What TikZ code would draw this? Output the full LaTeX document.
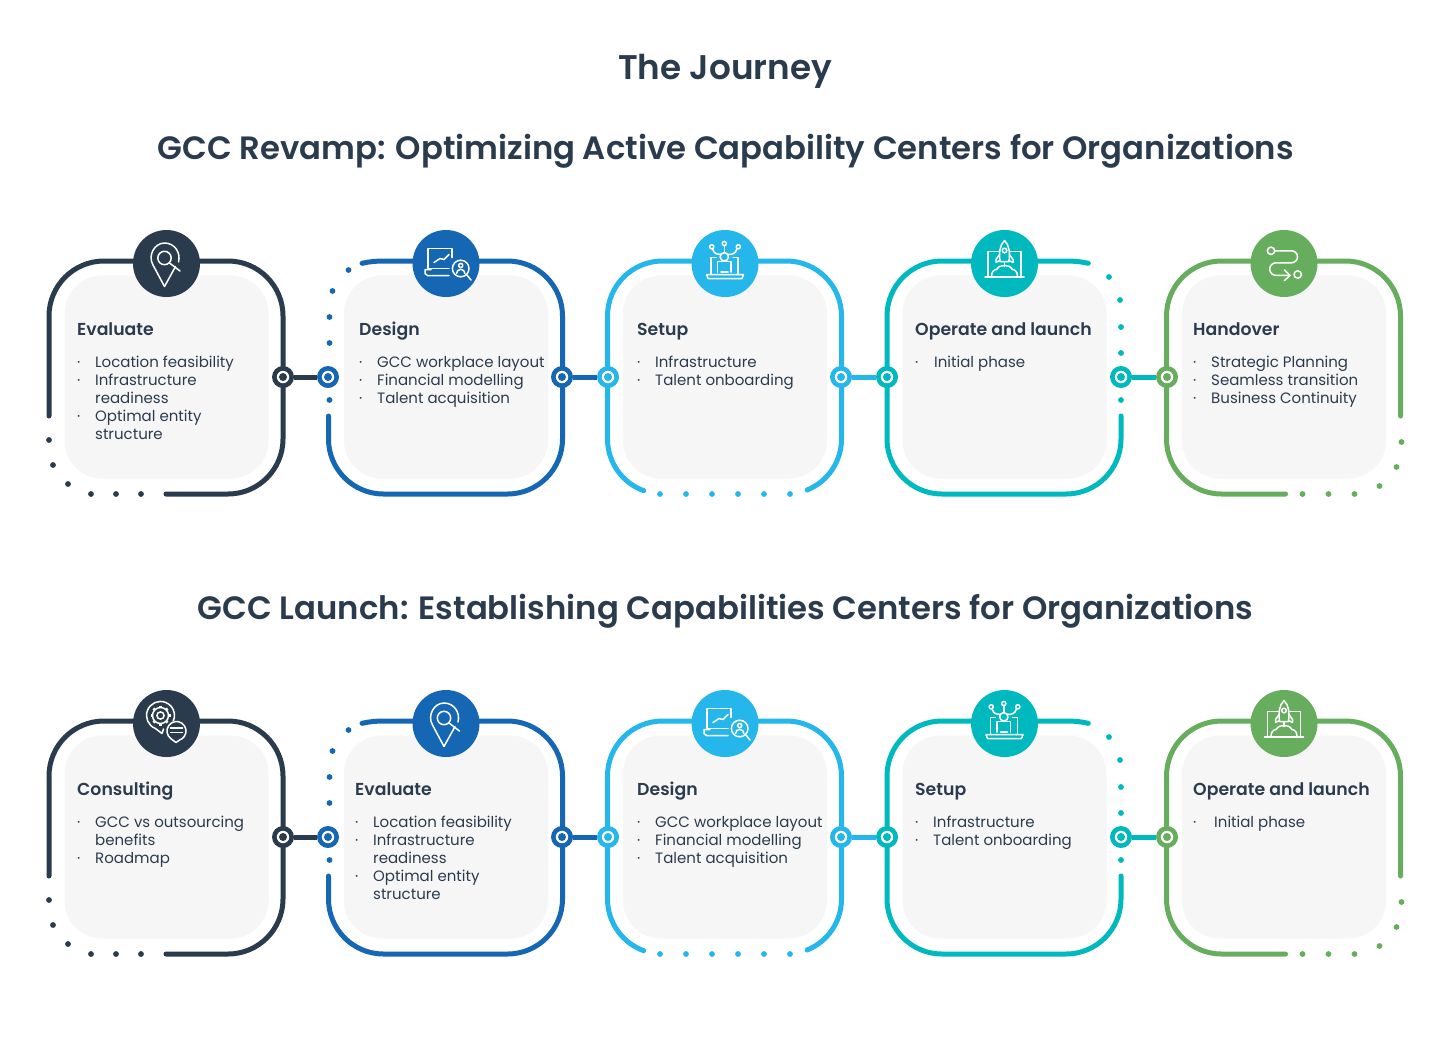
\documentclass[tikz,border=0pt]{standalone}
\usepackage{fontspec}
\setmainfont{Poppins}[BoldFont={Poppins SemiBold}]
\definecolor{cnavy}{HTML}{2B3B4E}
\definecolor{cblue}{HTML}{1567B3}
\definecolor{ccyan}{HTML}{25B6EC}
\definecolor{cteal}{HTML}{00B9BF}
\definecolor{cgreen}{HTML}{66AE5E}
\definecolor{ccard}{HTML}{F6F6F6}
\tikzset{
 frameline/.style={line width=5pt,line cap=round},
 cardbox/.style={draw=none,fill=ccard,rounded corners=38pt,minimum width=204pt,minimum height=203pt,inner sep=0pt},
 iconbg/.style={circle,minimum size=67pt,inner sep=0pt},
 ringnode/.style={circle,minimum size=22pt,inner sep=0pt},
 linkline/.style={line width=5pt},
 iconline/.style={draw=white,line width=1.5pt,line cap=round,line join=round},
 title/.style={font=\fontsize{34.2}{36}\selectfont\bfseries,text=cnavy,inner sep=0pt},
 subtitle/.style={font=\fontsize{32.3}{36}\selectfont\bfseries,text=cnavy,inner sep=0pt},
 heading/.style={font=\fontsize{17.3}{18}\selectfont\bfseries,text=cnavy,inner sep=0pt,anchor=base west},
 body/.style={font=\fontsize{15}{18}\selectfont,text=cnavy,inner sep=0pt,anchor=north west,align=left},
}
\newcommand{\bl}{\makebox[18pt][l]{·}}
\newcommand{\blw}[1]{\makebox[#1][l]{·}}
\newcommand{\ct}{\hspace*{18pt}}
% frames: local origin = left/top of the line
\newcommand{\FrameA}[1]{%
 \draw[frameline,#1] (0,-155) -- (0,-55) arc[start angle=180,end angle=90,radius=55] -- (179,0) arc[start angle=90,end angle=0,radius=55] -- (234,-178) arc[start angle=0,end angle=-90,radius=55] -- (117,-233);
 \foreach \a/\b in {0/-179,4/-204,19/-223,42/-233,67/-233,92/-233} \fill[#1] (\a,\b) circle (2.9);}
\newcommand{\FrameB}[1]{%
 \draw[frameline,#1] (33.5,-2.3) .. controls (41,-0.6) and (48,0) .. (55,0) -- (179,0) arc[start angle=90,end angle=0,radius=55] -- (234,-178) arc[start angle=0,end angle=-90,radius=55] -- (55,-233) arc[start angle=270,end angle=180,radius=55] -- (0,-155);
 \foreach \a/\b in {20/-9,4/-30,1/-56,1/-82,1/-139} \fill[#1] (\a,\b) circle (2.9);}
\newcommand{\FrameC}[1]{%
 \draw[frameline,#1] (36.19,-229.68) arc[start angle=250,end angle=180,radius=55] -- (0,-55) arc[start angle=180,end angle=90,radius=55] -- (179,0) arc[start angle=90,end angle=0,radius=55] -- (234,-178) arc[start angle=0,end angle=-68,radius=55];
 \foreach \a in {52.5,78.5,104.5,130.5,156.5,182.5} \fill[#1] (\a,-233) circle (2.9);}
\newcommand{\FrameD}[1]{%
 \draw[frameline,#1] (201.3,-2.3) .. controls (194,-0.6) and (187,0) .. (179,0) -- (55,0) arc[start angle=90,end angle=180,radius=55] -- (0,-178) arc[start angle=180,end angle=270,radius=55] -- (179,-233) arc[start angle=270,end angle=360,radius=55] -- (234,-155);
 \foreach \a/\b in {222/-16,233/-39,234/-66,234/-92,234/-139} \fill[#1] (\a,\b) circle (2.9);}
\newcommand{\FrameE}[1]{%
 \draw[frameline,#1] (234,-155) -- (234,-55) arc[start angle=0,end angle=90,radius=55] -- (55,0) arc[start angle=90,end angle=180,radius=55] -- (0,-178) arc[start angle=180,end angle=270,radius=55] -- (119,-233);
 \foreach \a/\b in {136/-233,162/-233,188/-233,213/-225,230/-206,235/-181} \fill[#1] (\a,\b) circle (2.9);}
% icons: origin = centre of the circle, y up
\newcommand{\IconPinB}[1]{%
 \draw[iconline] (-2,-23) -- (-13.5,-1.5) .. controls (-19,8) and (-12,20.5) .. (-2,20.5) .. controls (8,20.5) and (14.5,11) .. (12,1.5);
 \draw[iconline] (-2,-23) -- (9,-3);
 \draw[iconline] (-2,5.5) circle (6.7);
 \draw[iconline] (3,0.5) -- (13.5,-7.5);}
\newcommand{\IconLaptop}[1]{%
 \draw[iconline] (6,6) -- (6,15) -- (-18,15) -- (-18,-5) -- (3,-5);
 \draw[iconline] (-15,-6) -- (-21,-6) -- (-21,-10) -- (-18.5,-12) -- (3,-12);
 \draw[iconline] (-12,1) -- (-6,5) -- (-2,4) -- (3,9);
 \draw[iconline] (14.7,-5) circle (8.3);
 \draw[iconline] (20.5,-11) -- (25,-16.5);
 \draw[iconline] (14.7,-2) circle (2.1);
 \draw[iconline] (10.5,-10) arc[start angle=180,end angle=0,radius=4.2];}
\newcommand{\IconPeople}[1]{%
 \draw[iconline] (-13.3,16.7) circle (2.1) (-0.7,20) circle (2.1) (13.3,16.7) circle (2.1);
 \draw[iconline] (-0.7,18) -- (-0.7,11);
 \draw[iconline] (-12.5,14.7) .. controls (-11,9) and (-7,9) .. (-3.8,9);
 \draw[iconline] (12,14.7) .. controls (10.5,9) and (6,9) .. (2.4,9);
 \draw[iconline] (-0.7,6.7) circle (4.2);
 \draw[iconline] (-9,6) -- (-14,6) -- (-14,-11);
 \draw[iconline] (8,6) -- (13,6) -- (13,-11);
 \draw[iconline] (-7.5,-8.5) -- (-7.5,2) -- (6,2) -- (6,-8.5);
 \draw[iconline] (-18.5,-11) -- (18.5,-11) -- (17,-15) -- (-17,-15) -- cycle;
 \draw[iconline] (-4,-8.5) -- (3,-8.5);}
\newcommand{\IconRocket}[1]{%
 \draw[iconline] (0,23) .. controls (-5,18) and (-5.5,11) .. (-4.5,2) -- (4.5,2) .. controls (5.5,11) and (5,18) .. (0,23) -- cycle;
 \draw[iconline] (-5,9) -- (-8.5,4) -- (-8.5,1) -- (-4.5,3);
 \draw[iconline] (5,9) -- (8.5,4) -- (8.5,1) -- (4.5,3);
 \draw[iconline] (0,13) circle (2.3);
 \draw[iconline] (0,1) -- (0,-3);
 \draw[iconline] (-6,12) -- (-16.5,12) -- (-16.5,-12);
 \draw[iconline] (6,12) -- (16.5,12) -- (16.5,-12);
 \draw[iconline] (-19.5,-13.5) -- (19.5,-13.5);
 \draw[iconline] (-13,-12.5) .. controls (-13,-8) and (-10,-6) .. (-8,-6) .. controls (-6,-3) and (-3,-1.5) .. (0,-2) .. controls (3,-1.5) and (6,-3) .. (8,-6) .. controls (10,-6) and (13,-8) .. (13,-12.5);}
\newcommand{\IconRoute}[1]{%
 \draw[iconline] (-13,12.7) circle (3.7);
 \draw[iconline] (13.7,-11) circle (3.7);
 \draw[iconline] (-9.3,12.7) -- (7.5,12.7) arc[start angle=90,end angle=-90,radius=6] -- (-8,0.7) arc[start angle=90,end angle=270,radius=6.3] -- (6,-11.9);
 \draw[iconline] (0.5,-6.5) -- (6,-11.9) -- (0.5,-17);}
\newcommand{\IconGear}[1]{%
 \draw[iconline] (-11,-5) -- (-4.5,-10) -- (-3,-5.5);
 \draw[iconline] (-11,-5) arc[start angle=249,end angle=-30,radius=14];
 \draw[iconline] (-6,8) circle (3.6);
 \draw[iconline] (-6,8) circle (8);
 \foreach \t in {0,45,...,315} \draw[white,line width=2.6pt,line cap=butt] (-6,8) ++(\t:7.6) -- ++(\t:2.4);
 \fill[#1] (10,-7.5) circle (10.5);
 \draw[iconline] (10,-7.5) ++(235:9.5) arc[start angle=235,end angle=-70,radius=9.5] -- (9.5,-19) -- (4.5,-15.3);
 \draw[iconline] (4,-4.5) -- (16,-4.5) (4,-9) -- (16,-9);}
% one step: id, frame x, top y, colour, frame macro, icon macro, heading x, heading, body
\newcommand{\StepCard}[9]{%
 \begin{scope}[shift={(#2,-#3)}]
  \csname Frame#5\endcsname{#4}
  \node[cardbox] (card#1) at (117.5,-116) {};
  \node[iconbg,fill=#4] (icon#1) at (117.5,-2.5) {};
  \begin{scope}[shift={(icon#1.center)}]\csname Icon#6\endcsname{#4}\end{scope}
 \end{scope}
 \pgfmathsetmacro{\hy}{-(#3+74)}
 \pgfmathsetmacro{\by}{-(#3+95)}
 \node[heading] (head#1) at (#7,\hy) {#8};
 \node[body] (text#1) at (#7,\by) {#9};}
% two linked rings
\newcommand{\RingPair}[7]{%
 \node[ringnode,fill=#3] (#1) at (#2,-#7) {};
 \node[ringnode,fill=#6] (#4) at (#5,-#7) {};
 \draw[linkline,#3] (#1) -- (#4);
 \fill[white] (#1) circle (6.2); \fill[#3] (#1) circle (4);
 \fill[white] (#4) circle (6.2); \fill[#6] (#4) circle (4);}
\begin{document}
\begin{tikzpicture}[x=1pt,y=1pt]
\useasboundingbox[fill=white] (0,-1037) rectangle (1450,0);
\node[title] (main) at (725,-71) {The Journey};
\node[subtitle] (sub1) at (725.5,-151) {GCC Revamp: Optimizing Active Capability Centers for Organizations};
\node[subtitle] (sub2) at (725.5,-611) {GCC Launch: Establishing Capabilities Centers for Organizations};
% row 1
\StepCard{a1}{49}{261}{cnavy}{A}{PinB}{77}{Evaluate}{\bl Location feasibility\\\bl Infrastructure\\\ct readiness\\\bl Optimal entity\\\ct structure}
\StepCard{a2}{328.5}{261}{cblue}{B}{Laptop}{359}{Design}{\bl GCC workplace layout\\\bl Financial modelling\\\bl Talent acquisition}
\StepCard{a3}{607.5}{261}{ccyan}{C}{People}{637}{Setup}{\bl Infrastructure\\\bl Talent onboarding}
\StepCard{a4}{887}{261}{cteal}{D}{Rocket}{915}{Operate and launch}{\blw{19pt}Initial phase}
\StepCard{a5}{1166.5}{261}{cgreen}{E}{Route}{1193}{Handover}{\bl Strategic Planning\\\bl Seamless transition\\\bl Business Continuity}
\RingPair{ra1}{283}{cnavy}{la2}{328}{cblue}{377}
\RingPair{ra2}{562}{cblue}{la3}{608}{ccyan}{377}
\RingPair{ra3}{841}{ccyan}{la4}{887}{cteal}{377}
\RingPair{ra4}{1121}{cteal}{la5}{1167}{cgreen}{377}
% row 2
\StepCard{b1}{49}{721}{cnavy}{A}{Gear}{77}{Consulting}{\bl GCC vs outsourcing\\\ct benefits\\\bl Roadmap}
\StepCard{b2}{328.5}{721}{cblue}{B}{PinB}{355}{Evaluate}{\bl Location feasibility\\\bl Infrastructure\\\ct readiness\\\bl Optimal entity\\\ct structure}
\StepCard{b3}{607.5}{721}{ccyan}{C}{Laptop}{637}{Design}{\bl GCC workplace layout\\\bl Financial modelling\\\bl Talent acquisition}
\StepCard{b4}{887}{721}{cteal}{D}{People}{915}{Setup}{\bl Infrastructure\\\bl Talent onboarding}
\StepCard{b5}{1166.5}{721}{cgreen}{E}{Rocket}{1193}{Operate and launch}{\blw{21pt}Initial phase}
\RingPair{rb1}{283}{cnavy}{lb2}{328}{cblue}{837}
\RingPair{rb2}{562}{cblue}{lb3}{608}{ccyan}{837}
\RingPair{rb3}{841}{ccyan}{lb4}{887}{cteal}{837}
\RingPair{rb4}{1121}{cteal}{lb5}{1167}{cgreen}{837}
\end{tikzpicture}
\end{document}
